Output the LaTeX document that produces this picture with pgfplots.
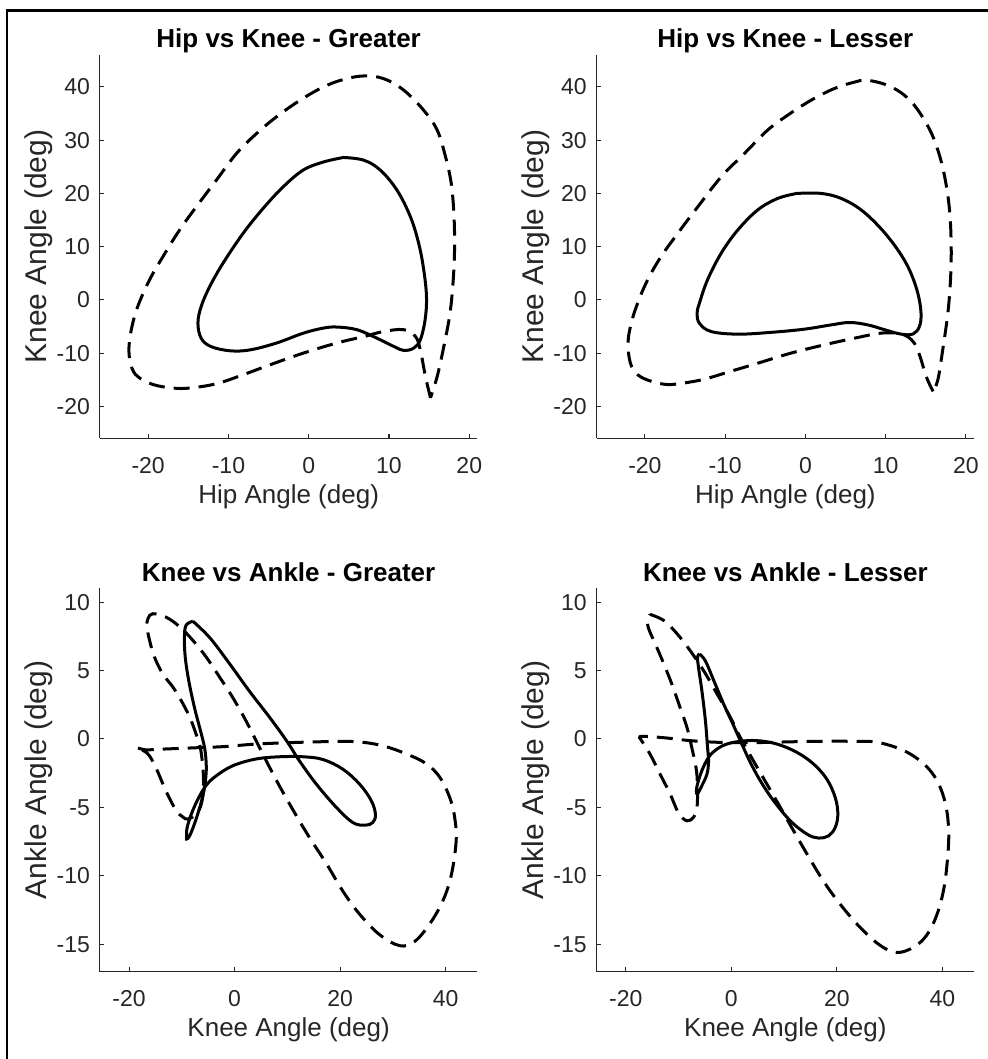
\documentclass[border=0pt]{standalone}
\usepackage{fontspec}
\setmainfont{Liberation Sans}
\usepackage{pgfplots}
\pgfplotsset{compat=1.18}
\definecolor{axgray}{HTML}{262626}
\pgfplotsset{
  myax/.style={
    scale only axis, width=188.65pt, height=191.65pt,
    axis x line*=bottom, axis y line*=left,
    axis line style={-, line width=0.5pt, draw=axgray},
    every tick/.style={line width=0.5pt, draw=axgray},
    major tick length=2.2pt,
    tick align=inside,
    ticklabel style={font=\fontsize{11.5}{12}\selectfont, text=axgray},
    /pgf/number format/assume math mode=true,
    xticklabel style={yshift=-6pt},
    yticklabel style={xshift=-1.5pt},
    title style={font=\bfseries\fontsize{13}{14}\selectfont, at={(axis description cs:0.5,1.0183)}, anchor=base, yshift=-6pt},
    xlabel style={font=\fontsize{13}{14}\selectfont, text=axgray, at={(axis description cs:0.5,-0.1696)}, anchor=base},
    ylabel style={font=\fontsize{15}{16}\selectfont, text=axgray, at={(axis description cs:-0.1413,0.5)}, anchor=base},
    clip=false,
  },
  solidc/.style={black, line width=1.5pt, smooth, tension=0.6},
  dashc/.style={black, line width=1.5pt, smooth, tension=0.6, dash pattern=on 8pt off 4.5pt},
}
\begin{document}
\begin{tikzpicture}
\path[use as bounding box] (0,0) rectangle (494pt,529.5pt);
\draw[line width=1.4pt] (3.5pt,-2pt) -- (3.5pt,524.25pt) -- (497pt,524.25pt);

% ---------- Hip vs Knee - Greater ----------
\begin{axis}[myax, at={(50pt,310.35pt)}, anchor=south west,
  xmin=-26, xmax=21, ymin=-26, ymax=46,
  xtick={-20,-10,0,10,20}, ytick={-20,-10,0,10,20,30,40},
  title={Hip vs Knee - Greater}, xlabel={Hip Angle (deg)}, ylabel={Knee Angle (deg)}]
\addplot[solidc] coordinates {(4.33,26.75) (1.83,25.9) (-0.67,24.4) (-3.17,21.25) (-5.67,17.2) (-8.17,12.5) (-10.67,6.9) (-12.33,2.5) (-13.4,-1.25) (-13.8,-4.4) (-13.4,-7.2) (-12.2,-8.75) (-9.83,-9.56) (-7.33,-9.4) (-4,-8.1) (-0.67,-6.25) (1.83,-5.3) (3.5,-5.1) (6,-5.6) (8.5,-7.2) (10.6,-8.75) (11.83,-9.5) (13.08,-9.06) (13.9,-7.5) (14.5,-3.75) (14.67,0.6) (14.33,5.6) (13.7,10.6) (12.67,15.6) (11,20.6) (8.9,24.4) (6.83,26.25) (4.33,26.75)};
\addplot[dashc] coordinates {(15.17,-18.4) (14.54,-14.4) (13.9,-9.4) (13.3,-6.9) (11.83,-5.6) (9.33,-5.94) (6.83,-6.9) (3.5,-8.1) (-0.67,-10) (-4.83,-12.2) (-8.17,-14.06) (-11.5,-15.75) (-14.83,-16.56) (-16.9,-16.56) (-19.4,-15.9) (-21.3,-14.4) (-22.1,-12.5) (-22.4,-9.4) (-22.1,-5.6) (-21.3,-1.25) (-19.83,3.75) (-18.17,8.1) (-16.1,13.1) (-14,17.5) (-11.5,22.5) (-9,27.5) (-6.5,31.25) (-4,34.4) (-1.08,37.5) (1.83,40) (4.33,41.4) (6.83,42.06) (9.33,41.56) (11.83,39.4) (14.33,35.6) (16,31.9) (17.04,26.9) (17.75,21.9) (18.08,16.25) (18.17,10) (18,3.75) (17.6,-2.5) (16.83,-8.75) (16,-14.4) (15.17,-18.4)};
\end{axis}

% ---------- Hip vs Knee - Lesser ----------
\begin{axis}[myax, at={(298.35pt,310.35pt)}, anchor=south west,
  xmin=-26, xmax=21, ymin=-26, ymax=46,
  xtick={-20,-10,0,10,20}, ytick={-20,-10,0,10,20,30,40},
  title={Hip vs Knee - Lesser}, xlabel={Hip Angle (deg)}, ylabel={Knee Angle (deg)}]
\addplot[solidc] coordinates {(-1.04,20) (-3.45,19.06) (-5.94,16.9) (-8.44,13.1) (-10.5,8.75) (-12.2,3.75) (-13.2,-0.6) (-13.5,-2.5) (-13.2,-4.4) (-11.76,-5.94) (-8.44,-6.44) (-4.28,-6.1) (-0.12,-5.5) (3.2,-4.7) (5.49,-4.25) (7.77,-4.7) (9.85,-5.6) (11.93,-6.44) (13.4,-6.4) (14.2,-5) (14.4,-2.5) (14,1.25) (12.97,5.6) (11.5,9.4) (9.4,13.4) (6.94,16.9) (4.45,19.06) (1.95,20) (-1.04,20)};
\addplot[dashc] coordinates {(15.9,-17.2) (15.05,-14.4) (14.2,-10.3) (13.4,-7.8) (11.93,-6.4) (9.43,-6.25) (6.1,-7.2) (2.37,-8.44) (-1.8,-10) (-5.94,-11.9) (-9.27,-13.4) (-12.6,-14.9) (-15.1,-15.6) (-17.2,-15.9) (-19.2,-15.3) (-20.9,-14.06) (-21.8,-11.9) (-22.1,-8.1) (-21.7,-4.4) (-20.9,-0.6) (-19.66,3.75) (-18,8.1) (-15.9,12.5) (-13.4,17.5) (-10.5,23.1) (-7.6,27.5) (-4.7,31.9) (-2.2,34.7) (0.7,37.5) (3.6,39.7) (6.1,40.9) (7.77,41.25) (10.7,40) (13.2,37.2) (15.3,32.5) (16.5,28.1) (17.35,23.1) (17.95,16.9) (18.16,10) (18.07,3.75) (17.74,-2.5) (17.1,-9.4) (16.5,-15) (15.9,-17.2)};
\end{axis}

% ---------- Knee vs Ankle - Greater ----------
\begin{axis}[myax, at={(50pt,43.65pt)}, anchor=south west,
  xmin=-25.5, xmax=46, ymin=-17, ymax=11,
  xtick={-20,0,20,40}, ytick={-15,-10,-5,0,5,10},
  title={Knee vs Ankle - Greater}, xlabel={Knee Angle (deg)}, ylabel={Ankle Angle (deg)}]
\addplot[solidc] coordinates {(-7.9,8.6) (-4.7,7.4) (-0.95,5.5) (2.8,3.5) (6.6,1.6) (9.8,-0.1) (12.3,-1.6) (15.5,-3.3) (19.3,-5) (22.4,-6.1) (24.7,-6.3) (26.2,-6.1) (26.7,-5.5) (25.9,-4.5) (23.7,-3.3) (20.5,-2.2) (16.75,-1.5) (13,-1.3) (8.5,-1.3) (4.1,-1.46) (-0.3,-1.95) (-3.5,-2.7) (-5.4,-3.4) (-6.95,-4.4) (-8.2,-5.5) (-9.0,-6.5) (-9.1,-7.2) (-8.98,-7.3) (-8.5,-7.07) (-7.6,-6.2) (-6.6,-5) (-5.8,-3.8) (-5.4,-2.56) (-5.4,-1.6) (-5.7,-0.6) (-6.3,0.37) (-7.6,2.3) (-8.7,4.3) (-9.35,6) (-9.5,7.4) (-9.2,8.3) (-7.9,8.6)};
\addplot[dashc] coordinates {(-18.3,-0.66) (-16.75,-0.8) (-14.9,-0.76) (-8.5,-0.66) (-2.2,-0.56) (4.1,-0.37) (10.4,-0.27) (16.75,-0.2) (23.1,-0.2) (28.1,-0.5) (32.6,-1.1) (36.3,-1.8) (38.9,-2.8) (40.8,-4.3) (41.7,-5.7) (42,-7.4) (41.1,-9.9) (39.5,-11.8) (37,-13.5) (34.1,-14.8) (31.3,-15.1) (27.5,-14.3) (23.7,-12.8) (20.5,-11.1) (17.4,-9.1) (14.2,-7.2) (11.1,-5.2) (7.9,-3) (4.7,-0.6) (2.2,1.3) (-0.3,3) (-2.8,4.5) (-5.4,6) (-7.9,7.2) (-10.4,8.2) (-13,8.9) (-15.5,9.15) (-16.4,8.8) (-16.6,8.2) (-16.1,7.2) (-15.2,6) (-13.6,4.75) (-11.7,3.8) (-10.1,2.8) (-8.5,1.6) (-7.3,0.37) (-6.5,-0.6) (-6,-2.1) (-5.9,-3.5) (-6.3,-4.75) (-7.3,-5.5) (-8.85,-5.85) (-9.8,-5.7) (-11.1,-5.2) (-13,-3.8) (-14.9,-2.1) (-16.4,-1.1) (-18,-0.73) (-18.3,-0.66)};
\end{axis}

% ---------- Knee vs Ankle - Lesser ----------
\begin{axis}[myax, at={(298.35pt,43.65pt)}, anchor=south west,
  xmin=-25.5, xmax=46, ymin=-17, ymax=11,
  xtick={-20,0,20,40}, ytick={-15,-10,-5,0,5,10},
  title={Knee vs Ankle - Lesser}, xlabel={Knee Angle (deg)}, ylabel={Ankle Angle (deg)}]
\addplot[solidc] coordinates {(-6,6.2) (-4.9,5.7) (-3.35,4.3) (-1.45,2.56) (0.44,0.98) (2,-0.37) (3.6,-1.7) (5.5,-3.05) (8,-4.5) (11.2,-5.98) (14.35,-6.95) (16.56,-7.24) (18.46,-7.07) (19.7,-6.46) (20.2,-5.5) (19.7,-4.27) (18.1,-2.93) (15.6,-1.83) (12.45,-0.98) (8.66,-0.37) (4.87,-0.12) (1.7,-0.17) (-0.82,-0.37) (-2.7,-0.73) (-4.3,-1.34) (-5.56,-2.3) (-6.4,-3.3) (-6.6,-3.8) (-6.4,-4.0) (-5.56,-3.4) (-4.6,-2.56) (-4.3,-1.6) (-4.5,-0.6) (-4.9,1.34) (-5.56,3.5) (-6.2,5.2) (-6.4,6) (-6,6.2)};
\addplot[dashc] coordinates {(-15.4,9.1) (-12.8,8.66) (-10.3,7.7) (-7.8,6.46) (-5.25,5) (-2.7,3.3) (-0.2,1.6) (1.7,0.12) (4.2,-1.6) (6.76,-3.3) (9.3,-5) (11.8,-6.7) (14.35,-8.4) (17.5,-10.4) (20.7,-12.1) (24.5,-13.8) (28.3,-15.1) (31.4,-15.6) (34.6,-15.2) (37.1,-14.3) (39,-12.8) (40.3,-10.9) (41,-8.66) (41.2,-6.7) (40.6,-4.75) (39,-3.05) (36.5,-1.83) (32.7,-0.85) (27.6,-0.24) (22.6,-0.17) (16.2,-0.17) (9.9,-0.22) (3.6,-0.27) (-2.7,-0.24) (-7.8,-0.12) (-12.2,0.07) (-15.4,0.17) (-17.3,0.17) (-17,-0.12) (-15.4,-1.1) (-13.5,-2.56) (-11.6,-4) (-10,-5.4) (-8.4,-5.98) (-7.1,-5.7) (-6.5,-5) (-6.4,-3.8) (-6.6,-2.3) (-7.5,-0.6) (-8.4,0.85) (-9.7,2.3) (-11.25,4) (-12.8,5.5) (-14.4,6.95) (-15.5,7.9) (-15.9,8.54) (-15.4,9.1)};
\end{axis}
\end{tikzpicture}
\end{document}
